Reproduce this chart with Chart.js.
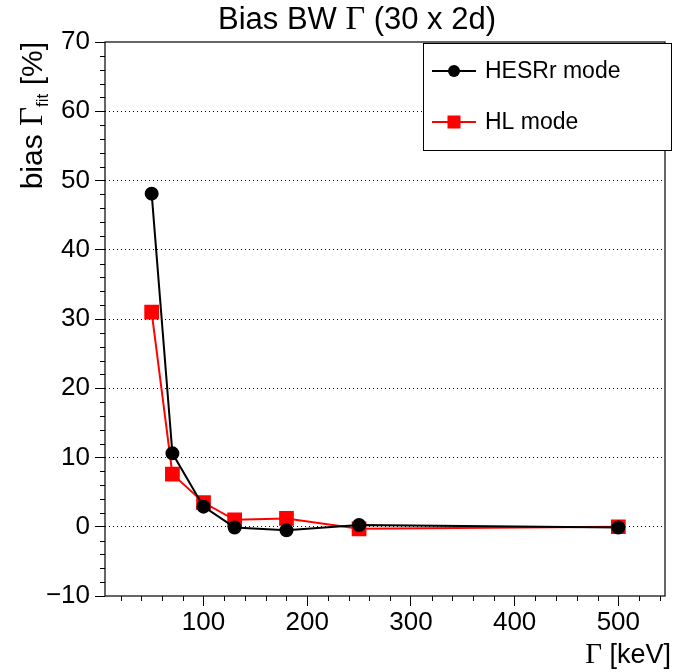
<!DOCTYPE html>
<html>
<head>
<meta charset="utf-8">
<script src="https://cdn.jsdelivr.net/npm/chart.js@4.4.1/dist/chart.umd.min.js"></script>
<style>
  html, body { margin: 0; padding: 0; background: #fff; }
</style>
</head>
<body>
<canvas id="biasChart" width="676" height="672"></canvas>
<script>
// values
const gammaKeV = [50, 70, 100, 130, 180, 250, 500];
const biasHESRr = [48.1, 10.6, 2.9, -0.1, -0.5, 0.25, -0.1];
const biasHL = [31.0, 7.6, 3.5, 1.0, 1.2, -0.3, 0.0];

const xTicks = [100, 200, 300, 400, 500];
const xTickLabels = ['100', '200', '300', '400', '500'];
const yTicks = [-10, 0, 10, 20, 30, 40, 50, 60, 70];
const yTickLabels = ['\u221210', '0', '10', '20', '30', '40', '50', '60', '70'];

const SANS = '"Liberation Sans", Arial, Helvetica, sans-serif';
const SERIF = '"Liberation Serif", "Times New Roman", serif';

// draw a line of text made of several runs (different fonts / offsets)
function drawRuns(ctx, runs, x, y, align) {
  let total = 0;
  runs.forEach(r => { ctx.font = r.font; r.w = ctx.measureText(r.text).width; total += r.w; });
  let cx = align === 'center' ? x - total / 2 : align === 'right' ? x - total : x;
  ctx.textAlign = 'left';
  ctx.textBaseline = 'alphabetic';
  runs.forEach(r => {
    ctx.font = r.font;
    ctx.fillText(r.text, cx, y + (r.dy || 0));
    cx += r.w;
  });
}

const rootStyle = {
  id: 'rootStyle',
  afterDraw(chart) {
    const ctx = chart.ctx;
    const a = chart.chartArea;
    const xs = chart.scales.x, ys = chart.scales.y;
    ctx.save();
    ctx.fillStyle = '#000';
    ctx.strokeStyle = '#000';

    // frame
    ctx.lineWidth = 1.2;
    ctx.strokeRect(a.left, a.top, a.right - a.left, a.bottom - a.top);

    // minor ticks
    ctx.lineWidth = 1;
    ctx.beginPath();
    for (let v = 20; v <= 540; v += 20) {
      if (v % 100 === 0) continue;
      const px = Math.round(xs.getPixelForValue(v)) + 0.5;
      ctx.moveTo(px, a.bottom);
      ctx.lineTo(px, a.bottom + 5);
    }
    for (let v = -10; v <= 70; v += 2) {
      if (v % 10 === 0) continue;
      const py = Math.round(ys.getPixelForValue(v)) + 0.5;
      ctx.moveTo(a.left, py);
      ctx.lineTo(a.left - 5, py);
    }
    ctx.stroke();

    // title
    drawRuns(ctx, [
      { text: 'Bias BW ', font: '31px ' + SANS },
      { text: '\u0393', font: '34px ' + SERIF },
      { text: ' (30 x 2d)', font: '31px ' + SANS }
    ], 357, 29, 'center');

    // x axis title
    drawRuns(ctx, [
      { text: '\u0393', font: '29px ' + SERIF },
      { text: ' [keV]', font: '27px ' + SANS }
    ], 671, 663, 'right');

    // y axis title (rotated)
    ctx.save();
    ctx.translate(42, a.top);
    ctx.rotate(-Math.PI / 2);
    drawRuns(ctx, [
      { text: 'bias ', font: '30px ' + SANS },
      { text: '\u0393', font: '33px ' + SERIF },
      { text: 'fit', font: '17px ' + SANS, dy: 6 },
      { text: ' [%]', font: '30px ' + SANS }
    ], 0, 0, 'right');
    ctx.restore();

    // legend box
    const lx = 423, ly = 43, lw = 248, lh = 107;
    ctx.fillStyle = '#fff';
    ctx.fillRect(lx, ly, lw, lh);
    ctx.lineWidth = 1;
    ctx.strokeStyle = '#000';
    ctx.strokeRect(lx + 0.5, ly + 0.5, lw, lh);
    chart.data.datasets.forEach((ds, i) => {
      const yy = 71 + i * 51;
      ctx.strokeStyle = ds.borderColor;
      ctx.fillStyle = ds.backgroundColor;
      ctx.lineWidth = 2;
      ctx.beginPath();
      ctx.moveTo(432, yy);
      ctx.lineTo(476, yy);
      ctx.stroke();
      if (ds.pointStyle === 'rect') {
        ctx.fillRect(454 - 6.5, yy - 6.5, 13, 13);
      } else {
        ctx.beginPath();
        ctx.arc(454, yy, 6, 0, Math.PI * 2);
        ctx.fill();
      }
      ctx.fillStyle = '#000';
      ctx.font = '23px ' + SANS;
      ctx.textBaseline = 'middle';
      ctx.textAlign = 'left';
      ctx.fillText(ds.label, 485, yy + 1);
    });
    ctx.restore();
  }
};

const ctx = document.getElementById('biasChart').getContext('2d');
new Chart(ctx, {
  type: 'line',
  data: {
    datasets: [{
      label: 'HESRr mode',
      data: gammaKeV.map((g, i) => ({ x: g, y: biasHESRr[i] })),
      borderColor: '#000',
      backgroundColor: '#000',
      borderWidth: 2,
      pointStyle: 'circle',
      pointRadius: 6,
      pointHoverRadius: 6,
      tension: 0
    }, {
      label: 'HL mode',
      data: gammaKeV.map((g, i) => ({ x: g, y: biasHL[i] })),
      borderColor: '#ff0000',
      backgroundColor: '#ff0000',
      borderWidth: 2,
      pointStyle: 'rect',
      pointRadius: 9,
      pointHoverRadius: 9,
      tension: 0
    }]
  },
  options: {
    responsive: false,
    animation: false,
    devicePixelRatio: 1,
    layout: { padding: { top: 42, right: 4, left: 0, bottom: 0 } },
    plugins: {
      legend: { display: false },
      title: { display: false },
      tooltip: { enabled: false }
    },
    scales: {
      x: {
        type: 'linear',
        min: 5,
        max: 545,
        afterBuildTicks: scale => { scale.ticks = xTicks.map(v => ({ value: v })); },
        afterFit: scale => { scale.height = 76; },
        grid: { drawOnChartArea: false, drawTicks: true, tickLength: 10, tickColor: '#000', tickWidth: 1 },
        border: { display: false },
        ticks: {
          padding: 1,
          maxRotation: 0,
          color: '#000',
          font: { family: SANS, size: 26 },
          callback: (v) => xTickLabels[xTicks.indexOf(v)]
        }
      },
      y: {
        min: -10,
        max: 70,
        afterBuildTicks: scale => { scale.ticks = yTicks.map(v => ({ value: v })); },
        afterFit: scale => { scale.width = 105; },
        grid: {
          color: c => (c.tick && (c.tick.value === -10 || c.tick.value === 70)) ? 'rgba(0,0,0,0)' : '#000',
          lineWidth: 1,
          tickLength: 10,
          tickColor: '#000',
          tickWidth: 1,
          tickBorderDash: []
        },
        border: { display: false, dash: [1, 3] },
        ticks: {
          padding: 5,
          color: '#000',
          font: { family: SANS, size: 26 },
          callback: (v) => yTickLabels[yTicks.indexOf(v)]
        }
      }
    }
  },
  plugins: [rootStyle]
});
</script>
</body>
</html>
